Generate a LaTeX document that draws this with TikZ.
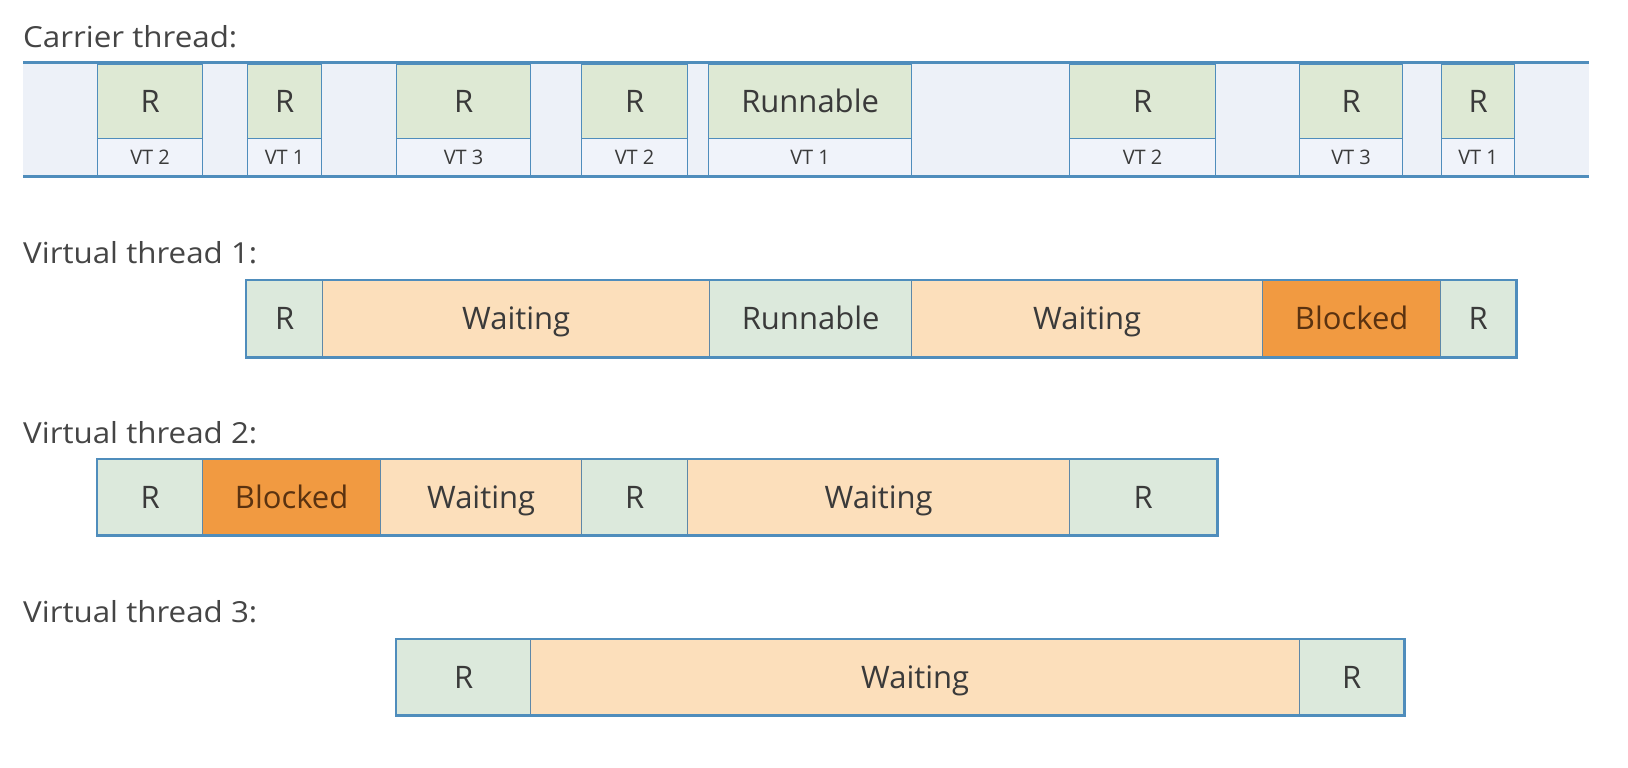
\documentclass[tikz,border=0pt]{standalone}
\usepackage{fontspec}
\setmainfont{Open Sans}
\newfontfamily\lblfamily[FakeStretch=1.08]{Open Sans}
\definecolor{linec}{HTML}{4F8DBC}
\definecolor{divc}{HTML}{5E88A8}
\definecolor{bandc}{HTML}{EDF1F8}
\definecolor{cellc}{HTML}{F0F3FA}
\definecolor{ctop}{HTML}{DEE9D4}
\definecolor{greenr}{HTML}{DCE9DC}
\definecolor{waitc}{HTML}{FCDFBB}
\definecolor{blockc}{HTML}{F19A41}
\definecolor{txt}{HTML}{3A3A3A}
\definecolor{lbl}{HTML}{454545}
\definecolor{btxt}{HTML}{5A3210}
\newcommand\boxfont{\fontsize{31}{33}\selectfont}
\newcommand\vtfont{\fontsize{20}{22}\selectfont}
\newcommand\lblfont{\lblfamily\fontsize{29}{32}\selectfont}
\tikzset{
  seg/.style={draw=divc, line width=1.3pt, inner sep=0pt, anchor=north west, font=\boxfont, text=txt, text height=22.1pt, text depth=0pt},
  ctopbox/.style={draw=linec, line width=1.2pt, inner sep=0pt, anchor=north west, fill=ctop, font=\boxfont, text=txt, text height=22.1pt, text depth=0pt},
  cbotbox/.style={draw=linec, line width=1.2pt, inner sep=0pt, anchor=north west, fill=cellc, font=\vtfont, text=txt, text height=14.3pt, text depth=0pt},
  outer/.style={draw=linec, line width=2.6pt},
  bandline/.style={draw=linec, line width=3pt},
  tlabel/.style={anchor=base west, inner sep=0pt, font=\lblfont, text=lbl},
}
% name, x1, x2, y1, y2, fill, text
\newcommand\segbox[7]{\node[seg, fill=#6, minimum width={#3-#2}, minimum height={#5-#4}] (#1) at (#2,#4) {#7};}
% carrier cell: index, x1, x2, top text, bottom text
\newcommand\carcell[5]{%
  \node[ctopbox, minimum width={#3-#2}, minimum height=74] (ct#1) at (#2,64) {#4};
  \node[cbotbox, minimum width={#3-#2}, minimum height=37] (cb#1) at (#2,138) {#5};}
\begin{document}
\begin{tikzpicture}[x=1pt,y=-1pt]
\useasboundingbox (0,0) rectangle (1628,768);
% ---------- carrier thread ----------
\node[tlabel] (lc) at (23,48) {Carrier thread:};
\fill[bandc] (23,63) rectangle (1589,176);
\carcell{1}{97}{202}{R}{VT 2}
\carcell{2}{247}{321}{R}{VT 1}
\carcell{3}{396}{530}{R}{VT 3}
\carcell{4}{581}{687}{R}{VT 2}
\carcell{5}{708}{911}{Runnable}{VT 1}
\carcell{6}{1069}{1215}{R}{VT 2}
\carcell{7}{1299}{1402}{R}{VT 3}
\carcell{8}{1441}{1514}{R}{VT 1}
\coordinate (btl) at (23,63); \coordinate (btr) at (1589,63);
\coordinate (bbl) at (23,176); \coordinate (bbr) at (1589,176);
\draw[bandline] (btl) -- (btr);
\draw[bandline] (bbl) -- (bbr);
% ---------- virtual thread 1 ----------
\node[tlabel] (l1) at (23,263) {Virtual thread 1:};
\segbox{a1}{246}{322}{280}{356}{greenr}{R}
\segbox{a2}{322}{709}{280}{356}{waitc}{Waiting}
\segbox{a3}{709}{911}{280}{356}{greenr}{Runnable}
\segbox{a4}{911}{1262}{280}{356}{waitc}{Waiting}
\node[seg, fill=blockc, text=btxt, minimum width=178, minimum height=76] (a5) at (1262,280) {Blocked};
\segbox{a6}{1440}{1515}{280}{356}{greenr}{R}
\draw[outer] (a1.north west) rectangle (a6.south east);
% ---------- virtual thread 2 ----------
\node[tlabel] (l2) at (23,443) {Virtual thread 2:};
\segbox{b1}{97}{202}{459}{534}{greenr}{R}
\node[seg, fill=blockc, text=btxt, minimum width=178, minimum height=75] (b2) at (202,459) {Blocked};
\segbox{b3}{380}{581}{459}{534}{waitc}{Waiting}
\segbox{b4}{581}{687}{459}{534}{greenr}{R}
\segbox{b5}{687}{1069}{459}{534}{waitc}{Waiting}
\segbox{b6}{1069}{1216}{459}{534}{greenr}{R}
\draw[outer] (b1.north west) rectangle (b6.south east);
% ---------- virtual thread 3 ----------
\node[tlabel] (l3) at (23,622) {Virtual thread 3:};
\segbox{c1}{396}{530}{639}{714}{greenr}{R}
\segbox{c2}{530}{1299}{639}{714}{waitc}{Waiting}
\segbox{c3}{1299}{1403}{639}{714}{greenr}{R}
\draw[outer] (c1.north west) rectangle (c3.south east);
\end{tikzpicture}
\end{document}
